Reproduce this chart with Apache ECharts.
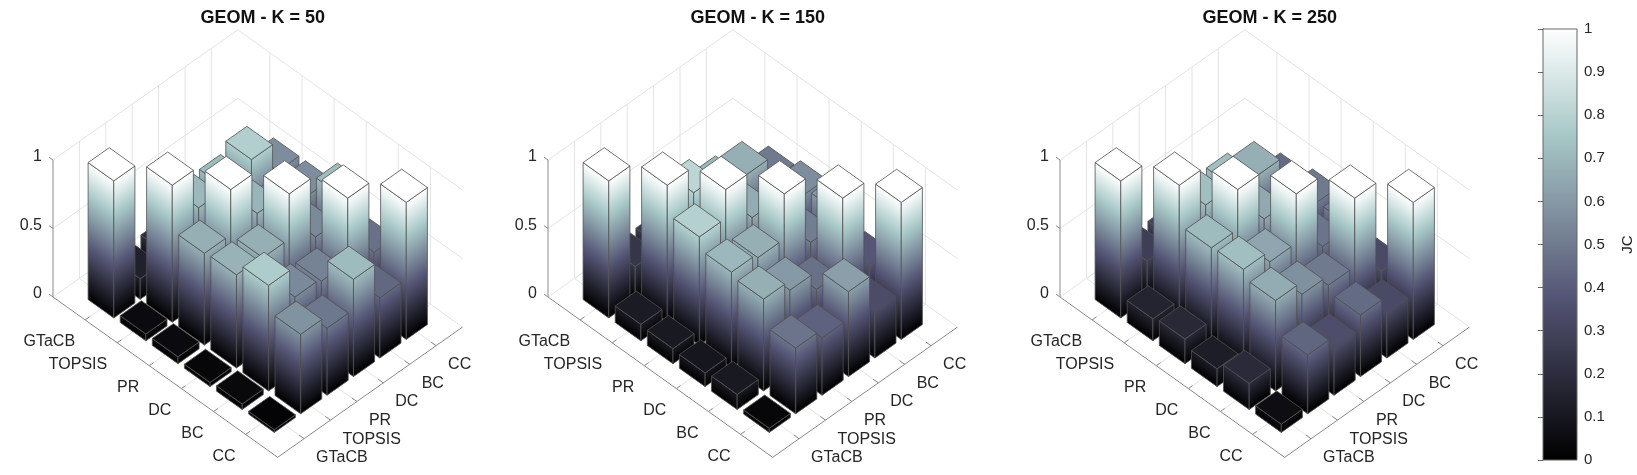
<!DOCTYPE html>
<html>
<head>
<meta charset="utf-8">
<script src="https://cdn.jsdelivr.net/npm/echarts@6/dist/echarts.min.js"></script>
<style>
  html, body { margin: 0; padding: 0; background: #fff; }
  #main { width: 1637px; height: 475px; }
</style>
</head>
<body>
<div id="main"></div>
<script>
// rankings on both floor axes
const rankers = ['GTaCB', 'TOPSIS', 'PR', 'DC', 'BC', 'CC'];
const panelTitles = ['GEOM - K = 50', 'GEOM - K = 150', 'GEOM - K = 250'];
const zTicks = [0, 0.5, 1];
const jcRange = [0, 1];

// JC matrices: row = left axis ranker, column = right axis ranker
const jcK50 = [
  [1.00, 0.15, 0.20, 0.20, 0.22, 0.20],
  [0.05, 1.00, 0.70, 0.71, 0.78, 0.56],
  [0.05, 0.67, 1.00, 0.69, 0.60, 0.56],
  [0.03, 0.68, 0.67, 1.00, 0.55, 0.71],
  [0.04, 0.77, 0.55, 0.53, 1.00, 0.47],
  [0.02, 0.58, 0.49, 0.71, 0.44, 1.00]
];
const jcK150 = [
  [1.00, 0.24, 0.25, 0.28, 0.30, 0.25],
  [0.12, 1.00, 0.81, 0.70, 0.67, 0.50],
  [0.11, 0.79, 1.00, 0.66, 0.55, 0.56],
  [0.10, 0.70, 0.67, 1.00, 0.51, 0.60],
  [0.11, 0.67, 0.60, 0.47, 1.00, 0.38],
  [0.03, 0.48, 0.42, 0.62, 0.34, 1.00]
];
const jcK250 = [
  [1.00, 0.28, 0.30, 0.30, 0.32, 0.30],
  [0.16, 1.00, 0.72, 0.72, 0.67, 0.45],
  [0.18, 0.71, 1.00, 0.65, 0.55, 0.50],
  [0.13, 0.72, 0.64, 1.00, 0.48, 0.50],
  [0.19, 0.66, 0.57, 0.50, 1.00, 0.33],
  [0.06, 0.43, 0.35, 0.45, 0.33, 1.00]
];
const panels = [jcK50, jcK150, jcK250];

// view / projection (axis units of each hidden panel grid)
const VIEW = { rx: 32.1, ry: -22.9, cx: 26.4, cy: 18.6, zh: 137, span: 7, half: 0.4 };
const X_MAX = VIEW.span * (VIEW.rx + VIEW.cx);
const Y_MIN = VIEW.span * VIEW.ry;
const Y_MAX = VIEW.span * VIEW.cy + VIEW.zh;
const panelLeft = [53, 548, 1060];
const panelTop = 29.8;

const FONT = 'Liberation Sans, Arial, Helvetica, sans-serif';
const GRID_C = '#e4e4e4';
const AXIS_C = '#8a8a8a';
const EDGE_C = '#505050';
const TEXT_C = '#262626';

// MATLAB bone colormap
function clamp01(x) { return Math.max(0, Math.min(1, x)); }
function bone(t) {
  t = clamp01(t);
  const r = (7 * t + clamp01((t - 0.75) * 4)) / 8;
  const g = (7 * t + clamp01((t - 0.375) * 8 / 3)) / 8;
  const b = (7 * t + clamp01(t * 8 / 3)) / 8;
  return 'rgb(' + Math.round(r * 255) + ',' + Math.round(g * 255) + ',' + Math.round(b * 255) + ')';
}
function boneStops(v) {
  const s = [{ offset: 0, color: bone(0) }];
  [0.375, 0.75].forEach(function (t) { if (t < v) s.push({ offset: t / v, color: bone(t) }); });
  s.push({ offset: 1, color: bone(v) });
  return s;
}

// gradient whose iso-lines follow the slanted bottom edge of the face
function faceFill(a0, b0, a1, v) {
  const dx = b0[0] - a0[0], dy = b0[1] - a0[1];
  const len = Math.hypot(dx, dy);
  let nx = dy / len, ny = -dx / len;
  let h = (a1[0] - a0[0]) * nx + (a1[1] - a0[1]) * ny;
  if (h < 0) { nx = -nx; ny = -ny; h = -h; }
  if (h < 1.5) return bone(v);
  return new echarts.graphic.LinearGradient(a0[0], a0[1], a0[0] + nx * h, a0[1] + ny * h, boneStops(v), true);
}

function projector(api) {
  return function (r, c, z) {
    return api.coord([r * VIEW.rx + c * VIEW.cx, r * VIEW.ry + c * VIEW.cy + z * VIEW.zh]);
  };
}
function seg(p, q, color, w) {
  return { type: 'line', shape: { x1: p[0], y1: p[1], x2: q[0], y2: q[1] },
           style: { stroke: color, lineWidth: w || 1 } };
}
function label(text, p, dx, dy, align) {
  return { type: 'text', x: p[0] + dx, y: p[1] + dy,
           style: { text: text, fill: TEXT_C, font: '16px ' + FONT, align: align, verticalAlign: 'middle' } };
}

// cells drawn back to front
function orderedCells(m) {
  const out = [];
  m.forEach(function (row, r) {
    row.forEach(function (v, c) { out.push([r + 1, c + 1, v]); });
  });
  out.sort(function (a, b) { return (a[0] - a[1]) - (b[0] - b[1]); });
  return out;
}

function renderBar(params, api) {
  const P = projector(api);
  const r = api.value(0), c = api.value(1), v = api.value(2);
  const h = VIEW.half;
  const a = P(r - h, c - h, 0), b = P(r + h, c - h, 0), d = P(r + h, c + h, 0);
  const at = P(r - h, c - h, v), bt = P(r + h, c - h, v), dt = P(r + h, c + h, v), et = P(r - h, c + h, v);
  const st = { stroke: EDGE_C, lineWidth: 0.8, lineJoin: 'round' };
  return {
    type: 'group',
    children: [
      { type: 'polygon', shape: { points: [a, b, bt, at] }, style: Object.assign({ fill: faceFill(a, b, at, v) }, st) },
      { type: 'polygon', shape: { points: [b, d, dt, bt] }, style: Object.assign({ fill: faceFill(b, d, bt, v) }, st) },
      { type: 'polygon', shape: { points: [at, et, dt, bt] }, style: Object.assign({ fill: bone(v) }, st) }
    ]
  };
}

function renderCategoryFrame(params, api) {
  const P = projector(api);
  const k = api.value(0), t = k + 1, S = VIEW.span;
  return {
    type: 'group',
    children: [
      seg(P(t, 0, 0), P(t, S, 0), GRID_C),
      seg(P(0, t, 0), P(S, t, 0), GRID_C),
      seg(P(0, t, 0), P(0, t, 1), GRID_C),
      seg(P(t, S, 0), P(t, S, 1), GRID_C),
      seg(P(t, 0, 0), P(t, 0.16, 0), AXIS_C),
      seg(P(S, t, 0), P(S - 0.16, t, 0), AXIS_C),
      label(rankers[k], P(t, 0, 0), -10, 22, 'right'),
      label(rankers[k], P(S, t, 0), 12, 19, 'left')
    ]
  };
}

function renderZFrame(params, api) {
  const P = projector(api);
  const z = api.value(0), S = VIEW.span;
  return {
    type: 'group',
    children: [
      seg(P(0, 0, z), P(0, S, z), GRID_C),
      seg(P(0, S, z), P(S, S, z), GRID_C),
      seg(P(0, 0, z), P(-0.12, 0, z), AXIS_C),
      label(String(z), P(0, 0, z), -11, -3, 'right')
    ]
  };
}

function renderAxes(params, api) {
  const P = projector(api);
  const S = VIEW.span;
  return {
    type: 'group',
    children: [
      seg(P(0, 0, 0), P(0, 0, 1), AXIS_C),
      seg(P(0, 0, 0), P(S, 0, 0), AXIS_C),
      seg(P(S, 0, 0), P(S, S, 0), AXIS_C)
    ]
  };
}

function renderColorbar(params, api) {
  const lo = api.coord([0, api.value(0)]), hi = api.coord([1, api.value(1)]);
  return {
    type: 'rect',
    shape: { x: lo[0], y: hi[1], width: hi[0] - lo[0], height: lo[1] - hi[1] },
    style: { fill: new echarts.graphic.LinearGradient(0, 1, 0, 0, boneStops(1)), stroke: '#666', lineWidth: 1 }
  };
}

const grids = panelLeft.map(function (left) {
  return { left: left, top: panelTop, width: X_MAX, height: Y_MAX - Y_MIN };
});
grids.push({ left: 1543, top: 29, width: 34, height: 431 });

const xAxes = panelLeft.map(function (l, i) {
  return { type: 'value', gridIndex: i, min: 0, max: X_MAX, show: false };
});
xAxes.push({ type: 'value', gridIndex: 3, min: 0, max: 1, show: false });

const yAxes = panelLeft.map(function (l, i) {
  return { type: 'value', gridIndex: i, min: Y_MIN, max: Y_MAX, show: false };
});
yAxes.push({
  type: 'value', gridIndex: 3, min: jcRange[0], max: jcRange[1], interval: 0.1, position: 'right',
  axisLine: { show: true, lineStyle: { color: '#666' } },
  axisTick: { show: true, inside: true, length: 5, lineStyle: { color: '#666' } },
  axisLabel: { fontSize: 15, color: TEXT_C, margin: 7, fontFamily: FONT },
  splitLine: { show: false },
  name: 'JC', nameLocation: 'middle', nameGap: 43, nameRotate: 90,
  nameTextStyle: { fontSize: 15, color: TEXT_C, fontFamily: FONT }
});

const series = [];
panels.forEach(function (m, i) {
  series.push({ type: 'custom', xAxisIndex: i, yAxisIndex: i, z: 1, silent: true, clip: false,
    data: rankers.map(function (n, k) { return [k]; }), renderItem: renderCategoryFrame });
  series.push({ type: 'custom', xAxisIndex: i, yAxisIndex: i, z: 1, silent: true, clip: false,
    data: zTicks.map(function (z) { return [z]; }), renderItem: renderZFrame });
  series.push({ type: 'custom', xAxisIndex: i, yAxisIndex: i, z: 1, silent: true, clip: false,
    data: [[0]], renderItem: renderAxes });
  series.push({ type: 'custom', xAxisIndex: i, yAxisIndex: i, z: 2, silent: true, clip: false,
    data: orderedCells(m), renderItem: renderBar });
});
series.push({ type: 'custom', xAxisIndex: 3, yAxisIndex: 3, z: 2, silent: true, clip: false,
  data: [jcRange], renderItem: renderColorbar });

const chart = echarts.init(document.getElementById('main'));
chart.setOption({
  animation: false,
  backgroundColor: '#fff',
  title: panelTitles.map(function (t, i) {
    return { text: t, left: panelLeft[i] + X_MAX / 2, top: 4, textAlign: 'center',
             textStyle: { fontSize: 18, fontWeight: 'bold', color: '#111', fontFamily: FONT } };
  }),
  grid: grids,
  xAxis: xAxes,
  yAxis: yAxes,
  series: series
});
</script>
</body>
</html>
